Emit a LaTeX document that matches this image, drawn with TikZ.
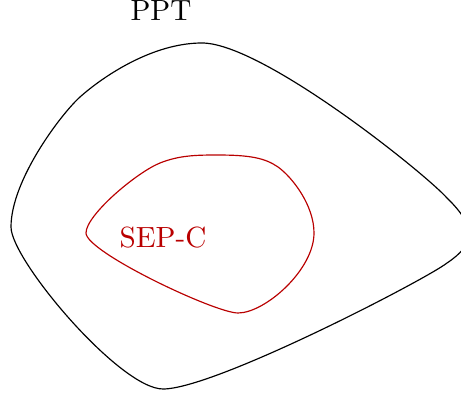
\documentclass[tikz,border=0pt]{standalone}
\definecolor{sepred}{RGB}{185,0,0}
\tikzset{
  outerset/.style={draw=black, line width=0.4pt},
  innerset/.style={draw=sepred, line width=0.4pt},
  lbl/.style={anchor=base, inner sep=0pt}
}
\begin{document}
\begin{tikzpicture}[x=0.3425pt, y=-0.3425pt]
\useasboundingbox (0,0) rectangle (461,396);
\draw[outerset] (202,43) .. controls (262,43) and (423.5,172) .. (447,198)
  .. controls (478,228) and (474,245) .. (447,263)
  .. controls (427.5,278.5) and (215,389) .. (163,389)
  .. controls (120,389) and (11,260) .. (11,227)
  .. controls (11,180) and (61.4,113.7) .. (80,97)
  .. controls (102.4,77) and (152,43) .. (202,43) -- cycle;
\draw[innerset] (217,155) .. controls (250,155) and (265,158) .. (278,167)
  .. controls (292,177) and (314,205) .. (314,233)
  .. controls (314,270) and (265,313) .. (238,313)
  .. controls (215,313) and (86,252) .. (86,233)
  .. controls (86,215) and (136.8,172.3) .. (160,163)
  .. controls (178.6,155.6) and (195,155) .. (217,155) -- cycle;
\node[lbl] (ppt) at (161,20.7) {PPT};
\node[lbl, text=sepred] (sepc) at (163,248) {SEP-C};
\end{tikzpicture}
\end{document}
